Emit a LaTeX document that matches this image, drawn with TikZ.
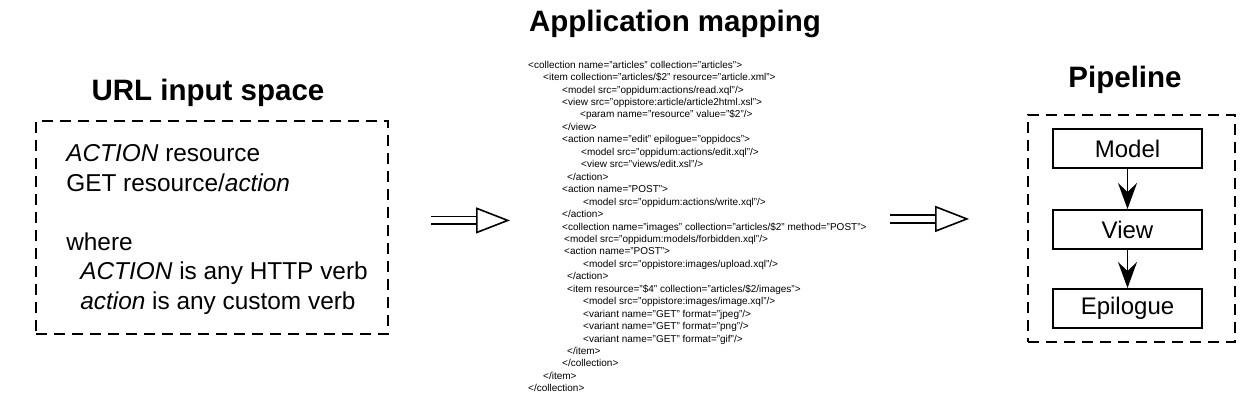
\documentclass[tikz,border=0pt]{standalone}
\usepackage{fontspec}
\setmainfont{Liberation Sans}
\usetikzlibrary{positioning,arrows.meta}

\begin{document}
\begin{tikzpicture}[
    x=1pt, y=-1pt,
    heading/.style={anchor=base, font=\fontsize{29.5}{35}\selectfont\bfseries},
    region/.style={rectangle, draw, line width=1.8pt, dash pattern=on 11pt off 7pt},
    stage/.style={rectangle, draw, line width=2pt, minimum width=149pt, minimum height=39pt, font=\fontsize{24}{29}\selectfont},
    arrow/.style={line width=1.5pt, -{Stealth[length=26pt, width=19pt, inset=9pt]}},
    maps/.style={double, double distance=6pt, line width=1.6pt, -{Triangle[open, length=34pt, width=26pt, line width=1.6pt]}}
]
    \useasboundingbox (0,0) rectangle (1240,400);

    % input space
    \node[heading] (urltitle) at (208, 100) {URL input space};
    \node[region, minimum width=352pt, minimum height=213pt] (urlbox) at (212, 227.5) {};
    \node[anchor=north west, inner sep=0pt, align=left, font=\fontsize{24.4}{29.6}\selectfont]
        (urltext) at ([xshift=31pt, yshift=-24.2pt]urlbox.north west) {\textit{ACTION} resource\\
        GET resource/\textit{action}\\[29.6pt]
        where\\
        \hspace*{14pt}\textit{ACTION} is any HTTP verb\\
        \hspace*{14pt}\textit{action} is any custom verb};

    % application mapping
    \node[heading] (maptitle) at (675, 31) {Application mapping};
    \node[anchor=north west, inner sep=0pt, align=left, font=\fontsize{10}{12.45}\selectfont] (xml) at (528, 60.7) {<collection name="articles" collection="articles">\\
        \hspace*{15pt}<item collection="articles/\$2" resource="article.xml">\\
        \hspace*{34pt}<model src="oppidum:actions/read.xql"/>\\
        \hspace*{34pt}<view src="oppistore:article/article2html.xsl">\\
        \hspace*{52pt}<param name="resource" value="\$2"/>\\
        \hspace*{34pt}</view>\\
        \hspace*{34pt}<action name="edit" epilogue="oppidocs">\\
        \hspace*{53pt}<model src="oppidum:actions/edit.xql"/>\\
        \hspace*{53pt}<view src="views/edit.xsl"/>\\
        \hspace*{39pt}</action>\\
        \hspace*{34pt}<action name="POST">\\
        \hspace*{55pt}<model src="oppidum:actions/write.xql"/>\\
        \hspace*{34pt}</action>\\
        \hspace*{34pt}<collection name="images" collection="articles/\$2" method="POST">\\
        \hspace*{36pt}<model src="oppidum:models/forbidden.xql"/>\\
        \hspace*{36pt}<action name="POST">\\
        \hspace*{55pt}<model src="oppistore:images/upload.xql"/>\\
        \hspace*{39pt}</action>\\
        \hspace*{39pt}<item resource="\$4" collection="articles/\$2/images">\\
        \hspace*{55pt}<model src="oppistore:images/image.xql"/>\\
        \hspace*{55pt}<variant name="GET" format="jpeg"/>\\
        \hspace*{55pt}<variant name="GET" format="png"/>\\
        \hspace*{55pt}<variant name="GET" format="gif"/>\\
        \hspace*{39pt}</item>\\
        \hspace*{34pt}</collection>\\
        \hspace*{15pt}</item>\\
        </collection>};

    % pipeline
    \node[heading] (pipetitle) at (1125, 87) {Pipeline};
    \node[region, minimum width=207pt, minimum height=227pt] (pipebox) at (1131.5, 228.5) {};
    \node[stage] (model) at (1127.5, 148.5) {Model};
    \node[stage, below=40pt of model] (view) {View};
    \node[stage, below=38pt of view] (epilogue) {Epilogue};

    \draw[arrow] (model) -- (view);
    \draw[arrow] (view) -- (epilogue);

    % mapping arrows
    \coordinate (in1) at ([yshift=6pt]xml.west);
    \coordinate (out2) at ([yshift=7.5pt]xml.east);
    \draw[maps, shorten <=42pt, shorten >=18pt] (urlbox.east |- in1) -- (in1);
    \draw[maps, shorten <=23pt, shorten >=58pt] (out2) -- (pipebox.west |- out2);
\end{tikzpicture}
\end{document}
